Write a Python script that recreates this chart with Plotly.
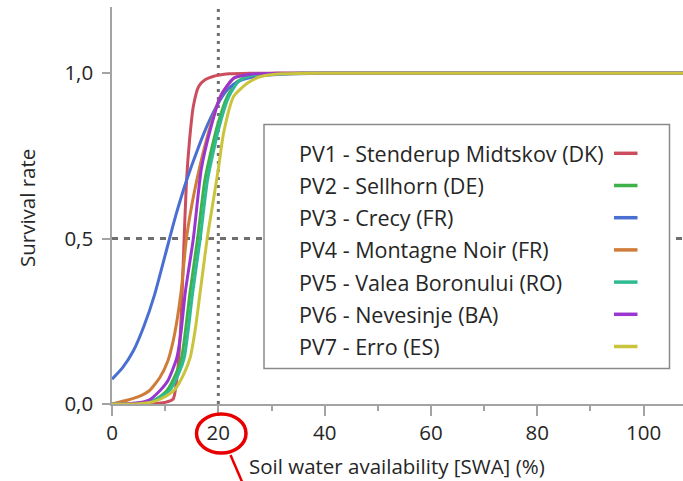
import plotly.graph_objects as go

# ---------------- data ----------------
series_names = [
    "PV1 - Stenderup Midtskov (DK)",
    "PV2 - Sellhorn (DE)",
    "PV3 - Crecy (FR)",
    "PV4 - Montagne Noir (FR)",
    "PV5 - Valea Boronului (RO)",
    "PV6 - Nevesinje (BA)",
    "PV7 - Erro (ES)",
]
series_colors = ["#cc4e5e", "#3fb14a", "#4a6fd2", "#cf7c3a", "#2fba92", "#9a35d0", "#c9c43c"]

pv1_swa = [0, 6, 10, 11.5, 12.4, 13.0, 13.5, 14.0, 14.6, 15.3, 16.3, 17.5, 19, 22, 26, 108]
pv1_surv = [0, 0.001, 0.005, 0.015, 0.11, 0.26, 0.47, 0.67, 0.8, 0.9, 0.96, 0.98, 0.99, 0.998, 1.0, 1.0]

pv2_swa = [0, 5, 8, 10.3, 12, 13.1, 14.7, 16.1, 17.5, 19.8, 21.7, 23.6, 26, 30, 36, 108]
pv2_surv = [0, 0.002, 0.012, 0.04, 0.09, 0.14, 0.34, 0.5, 0.68, 0.84, 0.93, 0.975, 0.992, 0.998, 1.0, 1.0]

pv3_swa = [0, 2, 4, 6, 8, 10, 12, 14, 16, 18, 20, 22, 24, 27, 32, 40, 108]
pv3_surv = [0.075, 0.11, 0.16, 0.235, 0.33, 0.45, 0.57, 0.675, 0.765, 0.845, 0.91, 0.955, 0.977, 0.99, 0.997, 1.0, 1.0]

pv4_swa = [0, 3, 5, 7, 9, 10.5, 11.5, 12.3, 13, 14, 15, 16, 17, 18.5, 20.4, 22.9, 26, 31, 108]
pv4_surv = [0, 0.012, 0.022, 0.04, 0.08, 0.13, 0.19, 0.26, 0.34, 0.5, 0.6, 0.68, 0.75, 0.84, 0.93, 0.985, 0.996, 1.0, 1.0]

pv5_swa = [0, 5, 8, 10.8, 12.5, 13.6, 15.2, 16.6, 18, 20.2, 22, 23.8, 26, 30, 36, 108]
pv5_surv = [0, 0.002, 0.012, 0.04, 0.09, 0.14, 0.34, 0.5, 0.68, 0.84, 0.93, 0.975, 0.992, 0.998, 1.0, 1.0]

pv6_swa = [0, 4, 7, 9, 10.5, 12.2, 13, 13.8, 15.3, 16.8, 18.5, 20.4, 22.9, 26, 32, 108]
pv6_surv = [0, 0.002, 0.012, 0.04, 0.07, 0.14, 0.22, 0.34, 0.5, 0.71, 0.83, 0.93, 0.985, 0.997, 1.0, 1.0]

pv7_swa = [0, 5, 8, 10.3, 11.9, 13.5, 14.7, 15.7, 16.6, 17.9, 19, 20, 21, 22.9, 25.5, 28, 32, 40, 108]
pv7_surv = [0, 0.001, 0.008, 0.025, 0.045, 0.09, 0.14, 0.23, 0.34, 0.5, 0.61, 0.71, 0.82, 0.93, 0.97, 0.99, 0.998, 1.0, 1.0]

x_tick_vals = [0, 20, 40, 60, 80, 100]
x_tick_text = ["0", "20", "40", "60", "80", "100"]
y_tick_vals = [0, 0.5, 1.0]
y_tick_text = ["0,0", "0,5", "1,0"]

ref_swa = 20
ref_survival = 0.5

x_title = "Soil water availability [SWA] (%)"
y_title = "Survival rate"

# ---------------- figure ----------------
all_x = [pv1_swa, pv2_swa, pv3_swa, pv4_swa, pv5_swa, pv6_swa, pv7_swa]
all_y = [pv1_surv, pv2_surv, pv3_surv, pv4_surv, pv5_surv, pv6_surv, pv7_surv]

FONT = "Open Sans"
TXT = "#262626"
AX = "#a3a3a3"

fig = go.Figure()
for name, color, xs, ys in zip(series_names, series_colors, all_x, all_y):
    fig.add_trace(go.Scatter(
        x=xs, y=ys, name=name, mode="lines",
        line=dict(color=color, width=3, shape="spline", smoothing=0.6),
        showlegend=False, hoverinfo="skip",
    ))

W, H = 683, 481
L, R, T, B = 112, 0, 7, 77
pw, ph = W - L - R, H - T - B


def px_x(p):
    return (p - L) / pw


def px_y(p):
    return (H - B - p) / ph


shapes = [
    # reference lines
    dict(type="line", xref="x", yref="paper", x0=ref_swa, x1=ref_swa, y0=0, y1=1,
         line=dict(color="#6f6f6f", width=3, dash="3px,5px"), layer="below"),
    dict(type="line", xref="paper", yref="y", x0=0, x1=1, y0=ref_survival, y1=ref_survival,
         line=dict(color="#6f6f6f", width=3, dash="6px,6px"), layer="below"),
    # legend box
    dict(type="rect", xref="paper", yref="paper",
         x0=px_x(264), x1=px_x(669.5), y0=px_y(368.5), y1=px_y(124.5),
         fillcolor="white", line=dict(color="#8a8a8a", width=1.5), layer="above"),
    # red highlight circle and pointer
    dict(type="circle", xref="paper", yref="paper",
         x0=px_x(196.5), x1=px_x(246), y0=px_y(453), y1=px_y(414),
         line=dict(color="#e80000", width=3.5), layer="above"),
    dict(type="line", xref="paper", yref="paper",
         x0=px_x(230.5), x1=px_x(243), y0=px_y(455), y1=px_y(484),
         line=dict(color="#e80000", width=2.5), layer="above"),
]

annotations = [
    dict(text=x_title, xref="paper", yref="paper", x=px_x(397), y=px_y(466),
         showarrow=False, font=dict(family=FONT, size=20.5, color=TXT),
         xanchor="center", yanchor="middle"),
    dict(text=y_title, xref="paper", yref="paper", x=px_x(27), y=px_y(208),
         showarrow=False, font=dict(family=FONT, size=20.5, color=TXT), textangle=-90,
         xanchor="center", yanchor="middle"),
]

row0, row_step = 153.3, 32.2
for i, (name, color) in enumerate(zip(series_names, series_colors)):
    yc = row0 + i * row_step
    annotations.append(dict(
        text=name, xref="paper", yref="paper", x=px_x(297), y=px_y(yc),
        showarrow=False, xanchor="left", yanchor="middle",
        font=dict(family=FONT, size=21.5, color=TXT)))
    shapes.append(dict(type="line", xref="paper", yref="paper",
                       x0=px_x(614), x1=px_x(637.5), y0=px_y(yc), y1=px_y(yc),
                       line=dict(color=color, width=3.5), layer="above"))

fig.update_layout(
    width=W, height=H,
    margin=dict(l=L, r=R, t=T, b=B, pad=0),
    paper_bgcolor="white", plot_bgcolor="white",
    shapes=shapes, annotations=annotations,
    showlegend=False,
    xaxis=dict(range=[0, 107.4], tickvals=x_tick_vals, ticktext=x_tick_text,
               ticks="outside", ticklen=10, tickwidth=1.5, tickcolor=AX,
               minor=dict(dtick=10, ticks="outside", ticklen=5, tickwidth=1.5, tickcolor=AX),
               showline=True, linecolor=AX, linewidth=1.5,
               showgrid=False, zeroline=False,
               tickfont=dict(family=FONT, size=20.5, color=TXT)),
    yaxis=dict(range=[0, 1.2], tickvals=y_tick_vals, ticktext=y_tick_text,
               ticks="outside", ticklen=8, tickwidth=1.5, tickcolor=AX,
               showline=True, linecolor=AX, linewidth=1.5,
               showgrid=False, zeroline=False, ticklabelstandoff=5,
               tickfont=dict(family=FONT, size=20.5, color=TXT)),
)

fig.write_html(
    "out.html",
    config={"displayModeBar": False},
    post_script="document.body.style.margin='0';document.body.style.overflow='hidden';",
)
